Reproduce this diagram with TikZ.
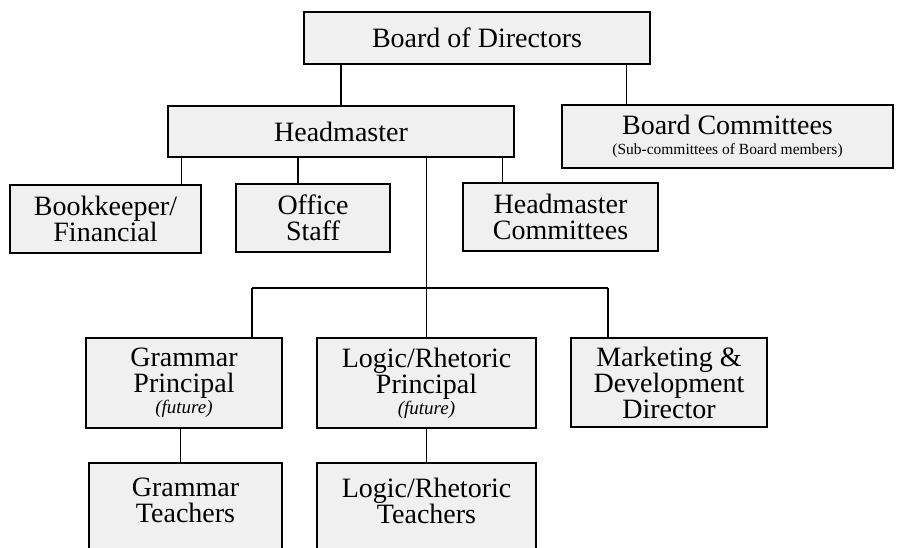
\documentclass[tikz,border=0pt]{standalone}
\usepackage{fontspec}
\setmainfont{Liberation Serif}
\definecolor{boxgray}{RGB}{240,240,240}

\begin{document}
\begin{tikzpicture}[
  x=1pt, y=-1pt,
  font=\fontsize{28}{26}\selectfont,
  unit/.style={rectangle, draw, line width=1.6pt, fill=boxgray, align=center, inner sep=0pt},
  link/.style={line width=1.3pt}
]
\useasboundingbox (0,0) rectangle (897,548);
\clip (0,0) rectangle (897,548);
% board and headmaster
\node[unit, minimum width=346pt, minimum height=52pt] (bod) at (477,38) {Board of Directors};
\node[unit, minimum width=346pt, minimum height=51pt] (head) at (341,131.5) {Headmaster};
\node[unit, minimum width=331pt, minimum height=63pt] (bcom) at (727.5,136.5)
  {Board Committees\\[-6pt]{\fontsize{15.5}{16}\selectfont (Sub-committees of Board members)}};
% staff under the headmaster
\node[unit, minimum width=191pt, minimum height=68pt] (book) at (105.5,219) {Bookkeeper/\\Financial};
\node[unit, minimum width=154pt, minimum height=68pt] (office) at (313,218) {Office\\Staff};
\node[unit, minimum width=195pt, minimum height=68pt] (hmcom) at (560.5,217) {Headmaster\\Committees};
% principals and director
\node[unit, minimum width=196pt, minimum height=90pt] (gprin) at (184,383)
  {Grammar\\Principal\\[-5pt]{\fontsize{19}{19}\selectfont\itshape (future)}};
\node[unit, minimum width=219pt, minimum height=90pt] (lrprin) at (426.5,383)
  {Logic/Rhetoric\\Principal\\[-5pt]{\fontsize{19}{19}\selectfont\itshape (future)}};
\node[unit, minimum width=196pt, minimum height=89pt] (mkt) at (669,382.5) {Marketing \&\\Development\\Director};
% teachers, cut off at the bottom
\node[unit, anchor=north, minimum width=193pt, inner ysep=15pt, text depth=80pt] (gteach) at (185.5,462) {Grammar\\Teachers};
\node[unit, anchor=north, minimum width=219pt, inner ysep=15pt, text depth=80pt] (lrteach) at (426.5,462) {Logic/Rhetoric\\Teachers};
% connectors
\draw[link] (bod.south -| head.north) -- (head.north);
\coordinate (bcin) at ([xshift=65pt]bcom.north west);
\draw[link] (bcin) -- (bcin |- bod.south);
\coordinate (bkin) at ([xshift=-20pt]book.north east);
\coordinate (ofin) at ([xshift=-15pt]office.north);
\coordinate (hcin) at ([xshift=40pt]hmcom.north west);
\foreach \c in {bkin,ofin,hcin} \draw[link] (\c) -- (\c |- head.south);
\draw[link] (head.south -| lrprin.north) -- (lrprin.north);
\coordinate (busL) at (252,288);
\coordinate (busR) at (608,288);
\draw[link] (busL) -- (busR);
\draw[link] (busL) -- (busL |- gprin.north);
\draw[link] (busR) -- (busR |- mkt.north);
\coordinate (gtin) at ([xshift=-5pt]gteach.north);
\draw[link] (gtin) -- (gtin |- gprin.south);
\draw[link] (lrprin.south) -- (lrteach.north);
\end{tikzpicture}
\end{document}
